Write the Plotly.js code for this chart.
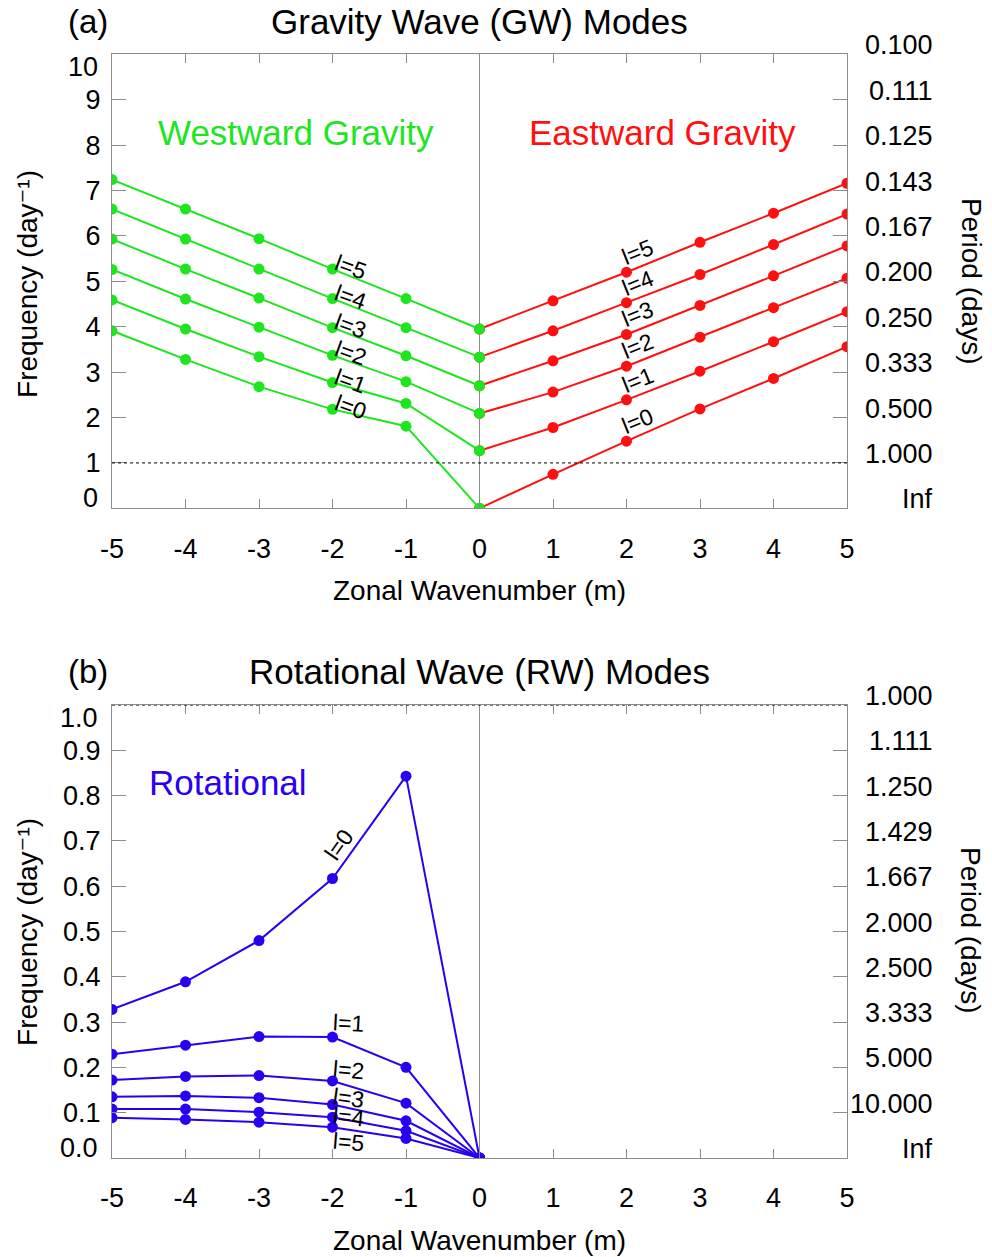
<!DOCTYPE html>
<html>
<head>
<meta charset="utf-8">
<script src="https://cdn.plot.ly/plotly-3.0.1.min.js"></script>
<style>html,body{margin:0;padding:0;background:#fff;}#chart{width:992px;height:1257px;}</style>
</head>
<body>
<div id="chart"></div>
<script>
// ---------- data ----------
const mWest = [-5, -4, -3, -2, -1, 0];
const mEast = [0, 1, 2, 3, 4, 5];
const mTicks = [-5, -4, -3, -2, -1, 0, 1, 2, 3, 4, 5];
const mTickText = ['-5', '-4', '-3', '-2', '-1', '0', '1', '2', '3', '4', '5'];

// Westward gravity modes (day^-1), l = 0..5
const westL0 = [3.91, 3.28, 2.68, 2.18, 1.81, 0.00];
const westL1 = [4.59, 3.95, 3.34, 2.77, 2.31, 1.27];
const westL2 = [5.26, 4.61, 3.99, 3.37, 2.79, 2.09];
const westL3 = [5.93, 5.27, 4.63, 3.98, 3.36, 2.70];
const westL4 = [6.59, 5.93, 5.27, 4.62, 3.98, 3.33];
const westL5 = [7.24, 6.59, 5.94, 5.27, 4.62, 3.95];

// Eastward gravity modes (day^-1), l = 0..5
const eastL0 = [0.00, 0.75, 1.48, 2.19, 2.86, 3.56];
const eastL1 = [1.27, 1.78, 2.39, 3.02, 3.67, 4.33];
const eastL2 = [2.09, 2.56, 3.13, 3.77, 4.42, 5.07];
const eastL3 = [2.70, 3.25, 3.83, 4.47, 5.12, 5.78];
const eastL4 = [3.33, 3.91, 4.53, 5.15, 5.81, 6.48];
const eastL5 = [3.95, 4.57, 5.20, 5.86, 6.50, 7.16];

// Rotational modes (day^-1), l = 0..5
const rotL0 = [0.328, 0.389, 0.480, 0.617, 0.843, 0];
const rotL1 = [0.229, 0.249, 0.268, 0.267, 0.200, 0];
const rotL2 = [0.172, 0.180, 0.182, 0.170, 0.121, 0];
const rotL3 = [0.135, 0.137, 0.133, 0.118, 0.082, 0];
const rotL4 = [0.108, 0.108, 0.101, 0.090, 0.060, 0];
const rotL5 = [0.089, 0.085, 0.079, 0.068, 0.043, 0];

const modeLabels = ['l=0', 'l=1', 'l=2', 'l=3', 'l=4', 'l=5'];

// frequency / period axes
const freqTicksA = [0, 1, 2, 3, 4, 5, 6, 7, 8, 9, 10];
const freqTextA = ['0', '1', '2', '3', '4', '5', '6', '7', '8', '9', '10'];
const periodTextA = ['Inf', '1.000', '0.500', '0.333', '0.250', '0.200', '0.167', '0.143', '0.125', '0.111', '0.100'];
const freqTicksB = [0, 0.1, 0.2, 0.3, 0.4, 0.5, 0.6, 0.7, 0.8, 0.9, 1.0];
const freqTextB = ['0.0', '0.1', '0.2', '0.3', '0.4', '0.5', '0.6', '0.7', '0.8', '0.9', '1.0'];
const periodTextB = ['Inf', '10.000', '5.000', '3.333', '2.500', '2.000', '1.667', '1.429', '1.250', '1.111', '1.000'];

// ---------- styles ----------
const GREEN = '#1ee61e';
const RED = '#ff1010';
const BLUE = '#2a00f0';
const FONT = 'Liberation Sans, Arial, Helvetica, DejaVu Sans, sans-serif';
const FRAME = '#8c8c8c';

const westSets = [westL0, westL1, westL2, westL3, westL4, westL5];
const eastSets = [eastL0, eastL1, eastL2, eastL3, eastL4, eastL5];
const rotSets = [rotL0, rotL1, rotL2, rotL3, rotL4, rotL5];

function tr(x, y, color, xa, ya) {
  return {
    x: x, y: y, xaxis: xa, yaxis: ya, type: 'scatter', mode: 'lines+markers',
    line: {color: color, width: 2}, marker: {color: color, size: 11},
    hoverinfo: 'skip', showlegend: false
  };
}

const data = [];
eastSets.forEach(s => data.push(tr(mEast, s, RED, 'x', 'y')));
westSets.forEach(s => data.push(tr(mWest, s, GREEN, 'x', 'y')));
rotSets.forEach(s => data.push(tr(mWest, s, BLUE, 'x2', 'y2')));

const annotations = [];
function txt(o) {
  annotations.push(Object.assign({showarrow: false, xanchor: 'center', yanchor: 'middle',
    font: {family: FONT, size: 23, color: '#000'}}, o));
}

// titles
txt({text: '(a)', xref: 'paper', yref: 'paper', x: 0, xshift: -24, y: 0.9825, font: {family: FONT, size: 33, color: '#000'}});
txt({text: 'Gravity Wave (GW) Modes', xref: 'paper', yref: 'paper', x: 0.5, y: 0.9825, font: {family: FONT, size: 35, color: '#000'}});
txt({text: '(b)', xref: 'paper', yref: 'paper', x: 0, xshift: -24, y: 0.4654, font: {family: FONT, size: 33, color: '#000'}});
txt({text: 'Rotational Wave (RW) Modes', xref: 'paper', yref: 'paper', x: 0.5, y: 0.4654, font: {family: FONT, size: 35, color: '#000'}});

// in-plot labels
txt({text: 'Westward Gravity', xref: 'x', yref: 'y', x: -2.5, y: 8.27, font: {family: FONT, size: 35, color: GREEN}});
txt({text: 'Eastward Gravity', xref: 'x', yref: 'y', x: 2.49, y: 8.27, font: {family: FONT, size: 35, color: RED}});
txt({text: 'Rotational', xref: 'x2', yref: 'y2', x: -3.42, y: 0.828, font: {family: FONT, size: 35, color: BLUE}});

// axis titles
[0, 1].forEach(i => {
  txt({text: 'Frequency (day\u207B\u00B9)', xref: 'paper', yref: 'paper', x: 0, xshift: -84,
       y: i === 0 ? 0.7741 : 0.2586, textangle: -90, font: {family: FONT, size: 28, color: '#000'}});
  txt({text: 'Period (days)', xref: 'paper', yref: 'paper', x: 1, xshift: 124,
       y: i === 0 ? 0.7765 : 0.2601, textangle: 90, font: {family: FONT, size: 28, color: '#000'}});
  txt({text: 'Zonal Wavenumber (m)', xref: 'paper', yref: 'paper', x: 0.5,
       y: i === 0 ? 0.5306 : 0.0135, font: {family: FONT, size: 28, color: '#000'}});
});

// right period labels
freqTicksA.forEach((v, i) => txt({text: periodTextA[i], xref: 'paper', yref: 'y', x: 1, xanchor: 'right', xshift: 88,
  y: v, yshift: 9, font: {family: FONT, size: 27, color: '#000'}}));
freqTicksB.forEach((v, i) => txt({text: periodTextB[i], xref: 'paper', yref: 'y2', x: 1, xanchor: 'right', xshift: 88,
  y: v, yshift: 9, font: {family: FONT, size: 27, color: '#000'}}));

// left end-of-axis frequency labels (pulled inside the frame like the original)
[[freqTicksA, freqTextA, 'y'], [freqTicksB, freqTextB, 'y2']].forEach(([tv, tt, ya]) => {
  const last = tv.length - 1;
  txt({text: tt[0], xref: 'paper', yref: ya, x: 0, xanchor: 'right', xshift: -12, y: tv[0], yshift: 10,
       font: {family: FONT, size: 27, color: '#000'}});
  txt({text: tt[last], xref: 'paper', yref: ya, x: 0, xanchor: 'right', xshift: -12, y: tv[last], yshift: -13,
       font: {family: FONT, size: 27, color: '#000'}});
});

// mode labels
westSets.forEach((s, l) => txt({text: modeLabels[l], xref: 'x', yref: 'y', x: mWest[3], y: s[3], xshift: 18, yshift: 2, textangle: 20}));
eastSets.forEach((s, l) => txt({text: modeLabels[l], xref: 'x', yref: 'y', x: mEast[2], y: s[2], xshift: 11, yshift: 20, textangle: -22}));
const rotShift = [[6, 34, -55], [16, 14, 3], [16, 11, 5], [16, 7, 8], [16, 0, 6], [16, -15, 5]];
rotSets.forEach((s, l) => txt({text: modeLabels[l], xref: 'x2', yref: 'y2', x: mWest[3], y: s[3],
  xshift: rotShift[l][0], yshift: rotShift[l][1], textangle: rotShift[l][2]}));

const shapes = [
  {type: 'line', xref: 'x', yref: 'y', x0: -5, x1: 5, y0: 1, y1: 1, line: {color: '#000', width: 1, dash: 'dot'}, layer: 'above'},
  {type: 'line', xref: 'x2', yref: 'y2', x0: -5, x1: 5, y0: 1, y1: 1, line: {color: '#000', width: 1, dash: 'dot'}, layer: 'above'}
];

function xax(anchor) {
  return {
    anchor: anchor, range: [-5, 5], tickmode: 'array', tickvals: mTicks, ticktext: mTickText,
    ticks: 'inside', ticklen: 9, tickcolor: FRAME, tickwidth: 1,
    showline: true, linecolor: FRAME, linewidth: 1, mirror: 'ticks',
    showgrid: false, zeroline: true, zerolinecolor: FRAME, zerolinewidth: 1,
    tickfont: {family: FONT, size: 27, color: '#000'}, ticklabelstandoff: 16,
    fixedrange: true
  };
}
function yax(anchor, domain, range, tv, tt) {
  // the end labels sit on the frame and are drawn separately (shifted inward)
  return {
    anchor: anchor, domain: domain, range: range, tickmode: 'array',
    tickvals: tv.slice(1, -1), ticktext: tt.slice(1, -1),
    ticks: 'inside', ticklen: 14, tickcolor: FRAME, tickwidth: 1,
    showline: true, linecolor: FRAME, linewidth: 1, mirror: 'ticks',
    showgrid: false, zeroline: false,
    tickfont: {family: FONT, size: 27, color: '#000'}, ticklabelstandoff: 5,
    fixedrange: true
  };
}

const layout = {
  width: 992, height: 1257,
  margin: {l: 112, r: 145, t: 0, b: 0},
  paper_bgcolor: '#fff', plot_bgcolor: '#fff',
  font: {family: FONT, color: '#000'},
  showlegend: false,
  xaxis: xax('y'),
  yaxis: yax('x', [0.5956, 0.9568], [0, 10], freqTicksA, freqTextA),
  xaxis2: xax('y2'),
  yaxis2: yax('x2', [0.0788, 0.4391], [0, 1], freqTicksB, freqTextB),
  annotations: annotations,
  shapes: shapes
};

Plotly.newPlot('chart', data, layout, {displayModeBar: false, staticPlot: true});
</script>
</body>
</html>
